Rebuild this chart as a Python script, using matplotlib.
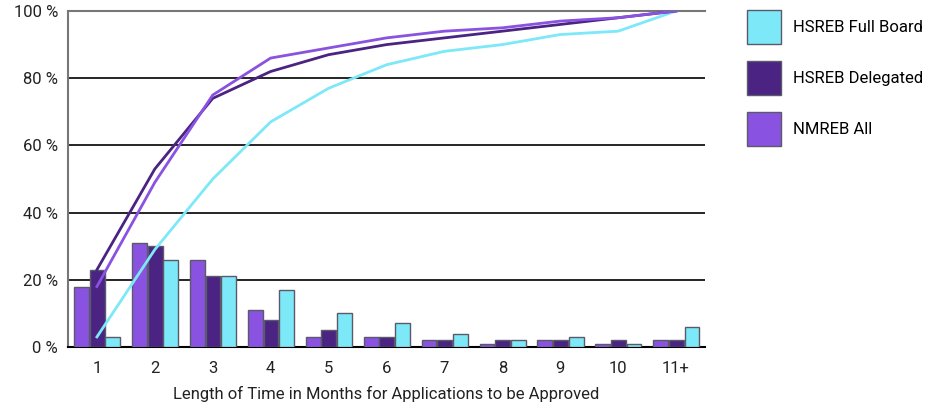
import matplotlib
matplotlib.use("Agg")
import matplotlib.pyplot as plt
import numpy as np
from matplotlib.patches import Patch

plt.rcParams['font.family'] = ['Roboto', 'DejaVu Sans']

categories = ["1", "2", "3", "4", "5", "6", "7", "8", "9", "10", "11+"]
nmreb_all = [18, 31, 26, 11, 3, 3, 2, 1, 2, 1, 2]
hsreb_delegated = [23, 30, 21, 8, 5, 3, 2, 2, 2, 2, 2]
hsreb_full = [3, 26, 21, 17, 10, 7, 4, 2, 3, 1, 6]
cum_nmreb = [18, 49, 75, 86, 89, 92, 94, 95, 97, 98, 100]
cum_delegated = [23, 53, 74, 82, 87, 90, 92, 94, 96, 98, 100]
cum_full = [3, 29, 50, 67, 77, 84, 88, 90, 93, 94, 100]
yticks = [0, 20, 40, 60, 80, 100]

c_nm = "#8A52E0"
c_del = "#4B2382"
c_full = "#7DE8F8"
edge = "#5a5a6a"

fig = plt.figure(figsize=(9.26, 4.08), dpi=100)
ax = fig.add_axes([0.0734, 0.1495, 0.6879, 0.8235])

x = np.arange(len(categories))
w = 0.255
ax.bar(x - 0.265, nmreb_all, w, color=c_nm, edgecolor=edge, linewidth=1, zorder=3)
ax.bar(x + 0.005, hsreb_delegated, w, color=c_del, edgecolor=edge, linewidth=1, zorder=3)
ax.bar(x + 0.275, hsreb_full, w, color=c_full, edgecolor=edge, linewidth=1, zorder=3)

ax.plot(x, cum_full, color=c_full, linewidth=2, zorder=4)
ax.plot(x, cum_delegated, color=c_del, linewidth=2, zorder=4)
ax.plot(x, cum_nmreb, color=c_nm, linewidth=2, zorder=4)

ax.set_xlim(-0.5, len(categories) - 0.5)
ax.set_ylim(0, 100)
ax.set_yticks(yticks)
ax.set_yticklabels([f"{v} %" for v in yticks])
ax.set_xticks(x)
ax.set_xticklabels(categories)
ax.tick_params(axis='both', length=0, labelsize=12, colors="#222222")
ax.tick_params(axis='y', pad=7)
ax.tick_params(axis='x', pad=10)
for v in yticks[1:-1]:
    ax.axhline(v, color="black", linewidth=1.2, zorder=1)

ax.spines['right'].set_visible(False)
ax.spines['top'].set_color("#777777")
ax.spines['left'].set_color("#777777")
ax.spines['bottom'].set_color("black")
ax.spines['top'].set_linewidth(1.5)
ax.spines['left'].set_linewidth(1.5)
ax.spines['bottom'].set_linewidth(1.5)

ax.set_xlabel("Length of Time in Months for Applications to be Approved", fontsize=12, color="#222222", labelpad=7)

handles = [Patch(facecolor=c_full, edgecolor=edge, label="HSREB Full Board"),
           Patch(facecolor=c_del, edgecolor=edge, label="HSREB Delegated"),
           Patch(facecolor=c_nm, edgecolor=edge, label="NMREB All")]
fig.legend(handles=handles, loc="upper left", bbox_to_anchor=(0.8067, 0.9755),
           frameon=False, fontsize=12, handlelength=2.04, handleheight=2.755,
           labelspacing=1.02, handletextpad=0.72, borderaxespad=0, borderpad=0)

fig.savefig("out.png", dpi=100)
